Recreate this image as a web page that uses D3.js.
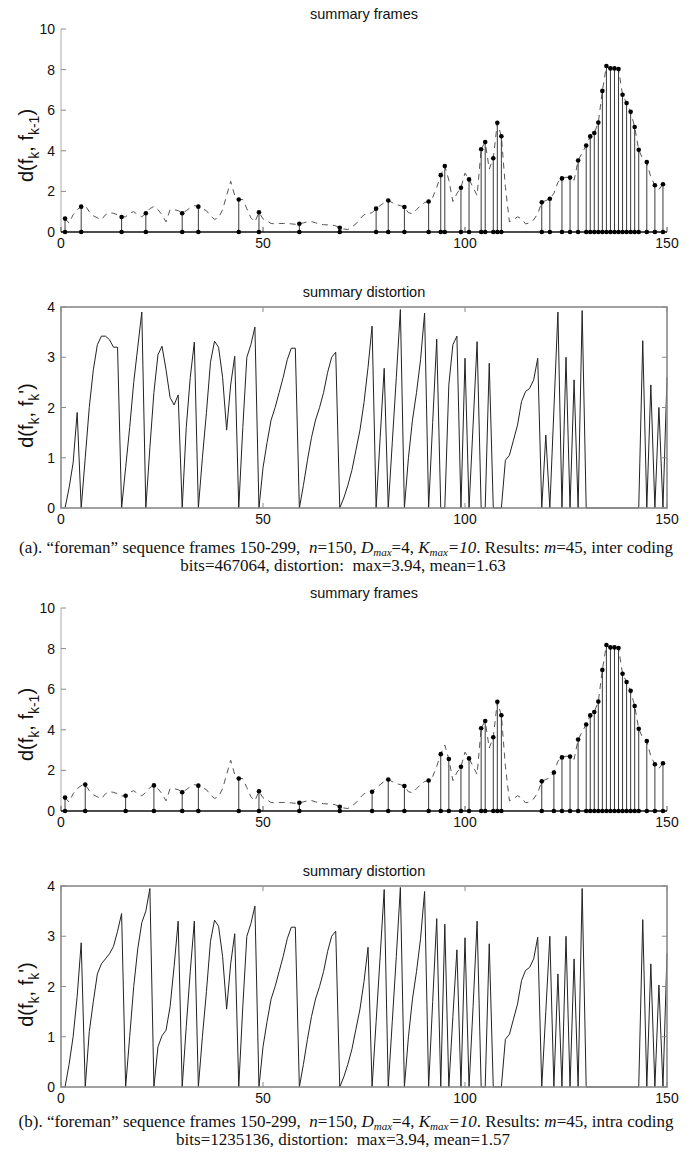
<!DOCTYPE html>
<html>
<head>
<meta charset="utf-8">
<script src="https://cdn.jsdelivr.net/npm/d3@7"></script>
<style>
  body { margin: 0; background: #fff; }
  svg text { font-family: "Liberation Sans", Arial, sans-serif; fill: #111; }
  svg text.cap { font-family: "Liberation Serif", "Times New Roman", serif; white-space: pre; }
</style>
</head>
<body>
<svg id="chart" width="695" height="1154"></svg>
<script>

// DATA (frame index k = 1..150)
// d(f_k, f_k-1) : frame-to-frame difference, same sequence in (a) and (b)
var frameDiff = [
  0.66, 0.44, 0.85, 1.1, 1.25, 1.3, 1.0, 0.8, 0.7, 0.6,
  0.85, 0.95, 0.92, 0.85, 0.74, 0.75, 0.92, 1.0, 0.85, 0.75,
  0.92, 1.15, 1.26, 1.1, 0.85, 0.5, 1.1, 1.1, 1.05, 0.92,
  1.05, 1.2, 1.3, 1.25, 1.15, 1.05, 0.8, 0.62, 0.7, 1.1,
  1.8, 2.5, 1.8, 1.6, 1.6, 1.15, 0.7, 0.5, 0.97, 0.65,
  0.55, 0.42, 0.4, 0.42, 0.42, 0.42, 0.4, 0.38, 0.41, 0.45,
  0.5, 0.52, 0.45, 0.4, 0.36, 0.35, 0.35, 0.3, 0.21, 0.15,
  0.12, 0.25, 0.4, 0.65, 0.85, 0.9, 0.95, 1.15, 1.3, 1.45,
  1.55, 1.45, 1.35, 1.3, 1.23, 0.95, 0.9, 1.1, 1.3, 1.45,
  1.5, 1.7, 2.2, 2.8, 3.25, 2.56, 1.5, 1.9, 2.18, 2.9,
  2.59, 2.2, 1.8, 4.08, 4.43, 3.1, 3.63, 5.38, 4.72, 2.2,
  0.5, 0.6, 0.75, 0.65, 0.4, 0.45, 0.6, 0.9, 1.46, 1.55,
  1.64, 1.9, 2.45, 2.64, 2.7, 2.68, 2.55, 3.52, 3.9, 4.26,
  4.71, 4.88, 5.39, 6.95, 8.18, 8.06, 8.06, 8.03, 6.76, 6.35,
  5.92, 5.17, 4.05, 3.6, 3.45, 2.7, 2.3, 2.1, 2.35, 2.4
];

// summary (key) frames chosen, m=45
var keysA = [1, 5, 15, 21, 30, 34, 44, 49, 59, 69, 78, 81, 85, 91, 94, 95, 99, 101, 104, 105,
  107, 108, 109, 119, 121, 124, 126, 128, 130, 131, 132, 133, 134, 135, 136, 137, 138, 139, 140, 141,
  142, 143, 145, 147, 149];
var keysB = [1, 6, 16, 23, 30, 34, 44, 49, 59, 69, 77, 81, 85, 91, 94, 96, 99, 101, 104, 105,
  107, 108, 109, 119, 122, 124, 126, 128, 130, 131, 132, 133, 134, 135, 136, 137, 138, 139, 140, 141,
  142, 143, 145, 147, 149];

// d(f_k, f'_k) : summary distortion
var distA = [
  0, 0.4, 0.9, 1.9, 0, 1.0, 2.0, 2.75, 3.25, 3.42,
  3.42, 3.35, 3.2, 3.2, 0, 0.8, 1.6, 2.5, 3.2, 3.9,
  0, 1.2, 2.3, 3.05, 3.22, 2.75, 2.2, 2.05, 2.25, 0,
  1.6, 2.6, 3.3, 0, 1.0, 1.9, 2.9, 3.32, 3.2, 2.6,
  1.55, 2.45, 3.02, 0, 1.6, 3.0, 3.25, 3.6, 0, 0.8,
  1.3, 1.75, 2.0, 2.3, 2.6, 2.95, 3.18, 3.18, 0, 0.45,
  0.95, 1.4, 1.75, 2.0, 2.3, 2.7, 3.0, 3.1, 0, 0.2,
  0.45, 0.75, 1.15, 1.55, 2.1, 2.8, 3.62, 0, 1.4, 2.78,
  0, 1.3, 2.6, 3.95, 0, 1.0, 1.75, 2.3, 2.95, 3.88,
  0, 1.7, 3.36, 0, 0, 2.45, 3.25, 3.42, 0, 2.98,
  0, 1.65, 3.31, 0, 0, 2.88, 0, 0, 0, 0.95,
  1.05, 1.35, 1.65, 2.12, 2.32, 2.38, 2.55, 2.98, 0, 1.45,
  0, 1.95, 3.9, 0, 3.0, 0, 2.55, 0, 3.93, 0,
  0, 0, 0, 0, 0, 0, 0, 0, 0, 0,
  0, 0, 0, 3.33, 0, 2.45, 0, 2.0, 0, 2.6
];
var distB = [
  0, 0.45, 1.0, 1.8, 2.87, 0, 1.1, 1.7, 2.25, 2.45,
  2.55, 2.65, 2.8, 3.1, 3.45, 0, 1.0, 2.0, 2.75, 3.27,
  3.5, 3.95, 0, 0.8, 1.02, 1.13, 1.6, 2.4, 3.3, 0,
  1.2, 2.3, 3.3, 0, 1.0, 1.9, 2.9, 3.32, 3.2, 2.6,
  1.55, 2.45, 3.05, 0, 1.6, 3.0, 3.25, 3.6, 0, 0.8,
  1.3, 1.75, 2.0, 2.3, 2.6, 2.95, 3.18, 3.18, 0, 0.45,
  0.95, 1.4, 1.75, 2.0, 2.3, 2.7, 3.0, 3.1, 0, 0.2,
  0.45, 0.75, 1.15, 1.55, 2.1, 2.78, 0, 1.3, 2.6, 3.93,
  0, 1.3, 2.6, 3.97, 0, 1.0, 1.75, 2.3, 2.95, 3.89,
  0, 1.7, 3.35, 0, 3.24, 0, 1.4, 2.73, 0, 2.97,
  0, 1.6, 3.3, 0, 0, 2.85, 0, 0, 0, 0.95,
  1.05, 1.35, 1.65, 2.12, 2.32, 2.38, 2.55, 2.98, 0, 1.5,
  3.0, 0, 2.25, 0, 3.0, 0, 2.55, 0, 3.95, 0,
  0, 0, 0, 0, 0, 0, 0, 0, 0, 0,
  0, 0, 0, 3.33, 0, 2.45, 0, 2.03, 0, 2.65
];

var xTicks = [0, 50, 100, 150];
var frameTicks = [0, 2, 4, 6, 8, 10];
var distTicks = [0, 1, 2, 3, 4];

var capA = ['(a). \u201cforeman\u201d sequence frames 150-299,  ', 'inter coding', 'bits=467064, distortion:  max=3.94, mean=1.63'];
var capB = ['(b). \u201cforeman\u201d sequence frames 150-299,  ', 'intra coding', 'bits=1235136, distortion:  max=3.94, mean=1.57'];

// LAYOUT
var svg = d3.select('#chart');
var x = d3.scaleLinear().domain([0, 150]).range([61, 667]);
var axisGrey = '#8a8a8a';

function title(txt, top) {
  svg.append('text')
    .attr('x', 364).attr('y', top - 10)
    .attr('text-anchor', 'middle')
    .style('font-size', '14.5px')
    .text(txt);
}

function yLabel(cy, parts) {
  var t = svg.append('text')
    .attr('transform', 'translate(33,' + cy + ') rotate(-90)')
    .attr('text-anchor', 'middle')
    .style('font-size', '20px');
  parts.forEach(function(p) {
    var s = t.append('tspan').text(p[0]);
    if (p[1] == 'sub') s.attr('dy', 6).style('font-size', '14px');
    if (p[1] == 'up') s.attr('dy', -6);
  });
}

function xTickLabels(bottom) {
  svg.selectAll(null).data(xTicks).enter().append('text')
    .attr('x', function(d) { return x(d); })
    .attr('y', bottom + 16)
    .attr('text-anchor', 'middle')
    .style('font-size', '14px')
    .text(function(d) { return d; });
}

function yTickLabels(y, ticks) {
  svg.selectAll(null).data(ticks).enter().append('text')
    .attr('x', 55)
    .attr('y', function(d) { return y(d) + 5; })
    .attr('text-anchor', 'end')
    .style('font-size', '14px')
    .text(function(d) { return d; });
}

// STEM PANEL (summary frames)
function drawFrames(top, bottom, keys) {
  var y = d3.scaleLinear().domain([0, 10]).range([bottom, top]);
  var g = svg.append('g');

  g.append('line')
    .attr('x1', x(0)).attr('x2', x(0)).attr('y1', y(0)).attr('y2', y(10))
    .attr('stroke', '#aaa').attr('stroke-width', 1);

  g.selectAll('.yt').data(frameTicks).enter().append('line')
    .attr('x1', x(0)).attr('x2', x(0) + 5)
    .attr('y1', function(d) { return y(d); }).attr('y2', function(d) { return y(d); })
    .attr('stroke', axisGrey);

  g.selectAll('.xt').data(xTicks).enter().append('line')
    .attr('x1', function(d) { return x(d); }).attr('x2', function(d) { return x(d); })
    .attr('y1', y(0)).attr('y2', y(0) - 5)
    .attr('stroke', '#555');

  var line = d3.line()
    .x(function(d, i) { return x(i + 1); })
    .y(function(d) { return y(d); });

  g.append('path')
    .datum(frameDiff)
    .attr('d', line)
    .attr('fill', 'none')
    .attr('stroke', '#555')
    .attr('stroke-width', 1)
    .attr('stroke-dasharray', '6,5');

  // baseline
  g.append('line')
    .attr('x1', x(0)).attr('x2', x(150)).attr('y1', y(0)).attr('y2', y(0))
    .attr('stroke', '#111').attr('stroke-width', 1.3);

  g.selectAll('.stem').data(keys).enter().append('line')
    .attr('x1', function(d) { return x(d); }).attr('x2', function(d) { return x(d); })
    .attr('y1', y(0)).attr('y2', function(d) { return y(frameDiff[d - 1]); })
    .attr('stroke', '#3a3a3a').attr('stroke-width', 1);

  g.selectAll('.top').data(keys).enter().append('circle')
    .attr('cx', function(d) { return x(d); })
    .attr('cy', function(d) { return y(frameDiff[d - 1]); })
    .attr('r', 2.3).attr('fill', '#000');

  g.selectAll('.bot').data(keys).enter().append('circle')
    .attr('cx', function(d) { return x(d); })
    .attr('cy', y(0))
    .attr('r', 2.3).attr('fill', '#000');

  title('summary frames', top);
  xTickLabels(bottom);
  yTickLabels(y, frameTicks);
  yLabel((top + bottom) / 2 + 15, [['d(f'], ['k', 'sub'], [', f', 'up'], ['k-1', 'sub'], [')', 'up']]);
}

// LINE PANEL (summary distortion)
function drawDist(top, bottom, dist) {
  var y = d3.scaleLinear().domain([0, 4]).range([bottom, top]);
  var g = svg.append('g');

  var line = d3.line()
    .x(function(d, i) { return x(i + 1); })
    .y(function(d) { return y(d); });

  g.append('path')
    .datum(dist)
    .attr('d', line)
    .attr('fill', 'none')
    .attr('stroke', '#222')
    .attr('stroke-width', 1);

  // box drawn over the data so zero runs sit under the grey axis
  g.append('rect')
    .attr('x', x(0)).attr('y', y(4))
    .attr('width', x(150) - x(0)).attr('height', y(0) - y(4))
    .attr('fill', 'none').attr('stroke', axisGrey).attr('stroke-width', 1.6);

  g.selectAll('.yt').data(distTicks).enter().append('path')
    .attr('d', function(d) {
      return 'M' + x(0) + ',' + y(d) + 'h5M' + x(150) + ',' + y(d) + 'h-5';
    })
    .attr('stroke', axisGrey);

  g.selectAll('.xt').data(xTicks).enter().append('path')
    .attr('d', function(d) {
      return 'M' + x(d) + ',' + y(0) + 'v-5M' + x(d) + ',' + y(4) + 'v5';
    })
    .attr('stroke', axisGrey);

  title('summary distortion', top);
  xTickLabels(bottom);
  yTickLabels(y, distTicks);
  yLabel((top + bottom) / 2 + 8, [['d(f'], ['k', 'sub'], [', f', 'up'], ['k', 'sub'], ['\'', 'up'], [')']]);
}

// CAPTION
function caption(base, cap) {
  var t = svg.append('text').attr('class', 'cap')
    .attr('x', 346).attr('y', base)
    .attr('text-anchor', 'middle')
    .style('font-size', '17px');
  var parts = [
    [cap[0]], ['n', 'i'], ['=150, '], ['D', 'i'], ['max', 'sub'], ['=4, ', 'up'],
    ['K', 'i'], ['max', 'sub'], ['=10', 'iu'], ['. Results: '], ['m', 'i'], ['=45, ' + cap[1]]
  ];
  parts.forEach(function(p) {
    var s = t.append('tspan').text(p[0]);
    if (p[1] == 'i' || p[1] == 'iu') s.style('font-style', 'italic');
    if (p[1] == 'sub') s.attr('dy', 3).style('font-size', '11px').style('font-style', 'italic');
    if (p[1] == 'up' || p[1] == 'iu') s.attr('dy', -3);
  });
  svg.append('text').attr('class', 'cap')
    .attr('x', 343).attr('y', base + 18)
    .attr('text-anchor', 'middle')
    .style('font-size', '17px')
    .text(cap[2]);
}

drawFrames(29, 232, keysA);
drawDist(307, 508, distA);
caption(553, capA);
drawFrames(608, 811, keysB);
drawDist(886, 1087, distB);
caption(1127, capB);

</script>
</body>
</html>
